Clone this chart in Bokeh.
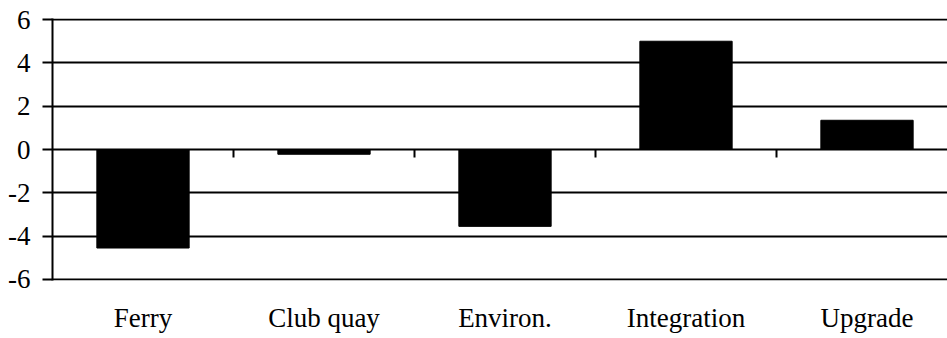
import math
from bokeh.plotting import figure
from bokeh.models import Range1d, LinearAxis, FixedTicker, ColumnDataSource
from bokeh.embed import file_html
from bokeh.resources import INLINE

categories = ["Ferry", "Club quay", "Environ.", "Integration", "Upgrade"]
values = [-4.55, -0.22, -3.55, 5.0, 1.35]
y_ticks = [-6, -4, -2, 0, 2, 4, 6]

n = len(categories)
centers = [i + 0.5 for i in range(n)]
bounds = [i + 1 for i in range(n - 1)]

W, H = 947, 338
BL, BR, BT, BB = 52, 0, 18, 58
frame_w = W - BL - BR
cat_px = 181.0

p = figure(width=W, height=H, output_backend="svg", toolbar_location=None,
           x_range=Range1d(0, frame_w / cat_px), y_range=Range1d(-6.05, 6.05),
           min_border_left=BL, min_border_right=BR, min_border_top=BT, min_border_bottom=BB,
           x_axis_location=None, y_axis_location=None)
p.outline_line_color = None
p.background_fill_color = "white"
p.border_fill_color = "white"

font = "'Liberation Serif', 'Times New Roman', serif"
LW = 2

p.ygrid.ticker = FixedTicker(ticks=y_ticks)
p.ygrid.grid_line_color = "black"
p.ygrid.grid_line_width = LW
p.xgrid.grid_line_color = None

src = ColumnDataSource(dict(x=centers, top=values))
p.vbar(x="x", top="top", bottom=0, width=0.51, source=src,
       fill_color="black", line_color="black")

# tick marks on the zero line between categories
p.ray(x=bounds, y=[0] * len(bounds), length=8, length_units="screen",
      angle=-math.pi / 2, line_color="black", line_width=LW)

# y axis
yax = LinearAxis(ticker=FixedTicker(ticks=y_ticks),
                 major_label_overrides={t: str(t) for t in y_ticks})
yax.axis_line_color = "black"
yax.axis_line_width = LW
yax.major_tick_line_color = "black"
yax.major_tick_line_width = LW
yax.major_tick_out = 10
yax.major_tick_in = 0
yax.minor_tick_line_color = None
yax.major_label_text_font = font
yax.major_label_text_font_size = "27px"
yax.major_label_text_color = "black"
yax.major_label_standoff = 12
p.add_layout(yax, "left")

# category labels at bottom
lax = LinearAxis(ticker=FixedTicker(ticks=centers),
                 major_label_overrides={c: lab for c, lab in zip(centers, categories)})
lax.axis_line_color = None
lax.major_tick_line_color = None
lax.minor_tick_line_color = None
lax.major_label_text_font = font
lax.major_label_text_font_size = "27px"
lax.major_label_text_color = "black"
lax.major_label_standoff = 16
p.add_layout(lax, "below")

open("out.html", "w").write(file_html(p, INLINE))
